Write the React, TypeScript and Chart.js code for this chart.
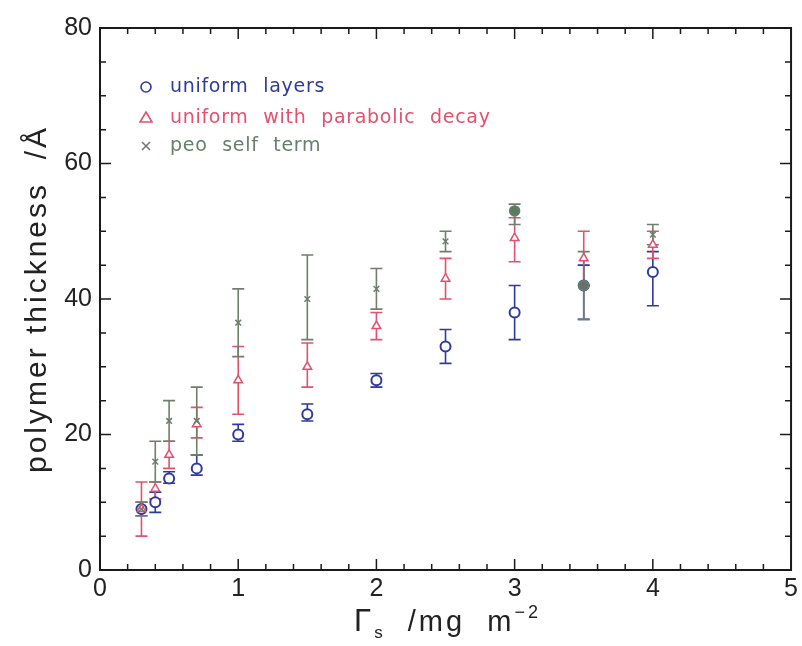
import React, { useEffect, useRef } from 'react';
import { Chart, registerables } from 'chart.js';
Chart.register(...registerables);

// ---- data ----
const xValues = [0.3, 0.4, 0.5, 0.7, 1.0, 1.5, 2.0, 2.5, 3.0, 3.5, 4.0];

const uniformLayers = [9, 10, 13.5, 15, 20, 23, 28, 33, 38, 42, 44];
const uniformLayersLow = [8, 8.5, 12.8, 14, 19, 22, 27, 30.5, 34, 37, 39];
const uniformLayersHigh = [10, 11.5, 14.5, 17, 21.5, 24.5, 29, 35.5, 42, 45, 47];

const parabolicDecay = [9, 12, 17, 21.5, 28, 30, 36, 43, 49, 46, 48];
const parabolicDecayLow = [5, 10.5, 15, 19.5, 23, 27, 34, 40, 45.5, 42, 46];
const parabolicDecayHigh = [13, 13, 19, 24, 33, 33.5, 38, 46, 52, 50, 50];

const peoSelfTerm = [9, 16, 22, 22, 36.5, 40, 41.5, 48.5, 53, 42, 49.5];
const peoSelfTermLow = [8, 13, 19, 17, 31.5, 34, 38.5, 47, 51, 37, 48];
const peoSelfTermHigh = [10, 19, 25, 27, 41.5, 46.5, 44.5, 50, 54, 47, 51];
const peoStyles = ['crossRot', 'crossRot', 'crossRot', 'crossRot', 'crossRot', 'crossRot', 'crossRot', 'crossRot', 'circle', 'circle', 'crossRot'];

const legendLabels = ['uniform layers', 'uniform with parabolic decay', 'peo self term'];
const xTickLabels = ['0', '1', '2', '3', '4', '5'];
const yTickLabels = ['0', '20', '40', '60', '80'];
const yTitle = 'polymer thickness  /Å';

const BLUE = '#2e3a9c';
const RED = '#e4506e';
const GREEN = '#66806a';

const FONT = "'Liberation Sans', Arial, sans-serif";
const LEGEND_FONT = "'DejaVu Sans', sans-serif";

const errorBarPlugin = {
  id: 'errorBars',
  beforeDatasetsDraw(chart: any) {
    const ctx = chart.ctx;
    const xs = chart.scales.x;
    const ys = chart.scales.y;
    const sets = [...chart.data.datasets].reverse();
    sets.forEach((ds: any) => {
      const lows = ds.errLow as number[];
      const highs = ds.errHigh as number[];
      ctx.save();
      ctx.strokeStyle = ds.errColor;
      ctx.lineWidth = 1.6;
      ds.data.forEach((p: any, i: number) => {
        const px = xs.getPixelForValue(p.x);
        const y1 = ys.getPixelForValue(lows[i]);
        const y2 = ys.getPixelForValue(highs[i]);
        ctx.beginPath();
        ctx.moveTo(px, y1);
        ctx.lineTo(px, y2);
        ctx.moveTo(px - 6, y1);
        ctx.lineTo(px + 6, y1);
        ctx.moveTo(px - 6, y2);
        ctx.lineTo(px + 6, y2);
        ctx.stroke();
      });
      ctx.restore();
    });
  },
};

const framePlugin = {
  id: 'frameTicks',
  afterDraw(chart: any) {
    const ctx = chart.ctx;
    const { left, right, top, bottom } = chart.chartArea;
    const xs = chart.scales.x;
    const ys = chart.scales.y;
    ctx.save();
    ctx.strokeStyle = '#1a1a1a';
    ctx.lineWidth = 2;
    ctx.strokeRect(left, top, right - left, bottom - top);
    ctx.lineWidth = 1.5;
    ctx.beginPath();
    for (let i = 0; i <= 25; i++) {
      const v = i * 0.2;
      const px = xs.getPixelForValue(v);
      const len = i % 5 === 0 ? 11 : 6;
      ctx.moveTo(px, bottom);
      ctx.lineTo(px, bottom - len);
      ctx.moveTo(px, top);
      ctx.lineTo(px, top + len);
    }
    for (let i = 0; i <= 16; i++) {
      const v = i * 5;
      const py = ys.getPixelForValue(v);
      const len = i % 4 === 0 ? 11 : 6;
      ctx.moveTo(left, py);
      ctx.lineTo(left + len, py);
      ctx.moveTo(right, py);
      ctx.lineTo(right - len, py);
    }
    ctx.stroke();

    // y-axis title
    ctx.fillStyle = '#222';
    ctx.save();
    ctx.translate(38, (top + bottom) / 2);
    ctx.rotate(-Math.PI / 2);
    ctx.font = `30px ${FONT}`;
    (ctx as any).letterSpacing = '3px';
    ctx.textAlign = 'center';
    ctx.textBaseline = 'middle';
    ctx.fillText(yTitle, 0, 0);
    ctx.restore();

    // x-axis title: Γs /mg m^-2
    ctx.textBaseline = 'alphabetic';
    (ctx as any).letterSpacing = '3px';
    const baseY = 631;
    const parts: [string, number, number][] = [
      ['Γ', 31, 0],
      ['s', 17, 7],
      ['  /mg  m', 29, 0],
      ['−2', 18, -13],
    ];
    let total = 0;
    parts.forEach(([t, s]) => {
      ctx.font = `${s}px ${FONT}`;
      total += ctx.measureText(t).width;
    });
    let cx = (left + right) / 2 - total / 2 + 2;
    parts.forEach(([t, s, dy]) => {
      ctx.font = `${s}px ${FONT}`;
      ctx.fillText(t, cx, baseY + dy);
      cx += ctx.measureText(t).width;
    });

    // legend
    const rows = [
      { label: legendLabels[0], color: BLUE, style: 'circle' },
      { label: legendLabels[1], color: RED, style: 'triangle' },
      { label: legendLabels[2], color: GREEN, style: 'crossRot' },
    ];
    const ly = [87, 118, 146];
    ctx.font = `19px ${LEGEND_FONT}`;
    (ctx as any).letterSpacing = '0.7px';
    (ctx as any).wordSpacing = '8px';
    ctx.textBaseline = 'middle';
    rows.forEach((r, i) => {
      const mx = 146;
      const my = ly[i];
      ctx.strokeStyle = r.color;
      ctx.lineWidth = 1.6;
      ctx.beginPath();
      if (r.style === 'circle') {
        ctx.arc(mx, my, 5, 0, Math.PI * 2);
      } else if (r.style === 'triangle') {
        ctx.moveTo(mx, my - 6);
        ctx.lineTo(mx + 6, my + 4);
        ctx.lineTo(mx - 6, my + 4);
        ctx.closePath();
      } else {
        ctx.moveTo(mx - 4, my - 4);
        ctx.lineTo(mx + 4, my + 4);
        ctx.moveTo(mx + 4, my - 4);
        ctx.lineTo(mx - 4, my + 4);
      }
      ctx.stroke();
      ctx.fillStyle = r.color;
      ctx.fillText(r.label, 170, my);
    });
    ctx.restore();
  },
};

export default function App() {
  const ref = useRef<HTMLCanvasElement>(null);
  useEffect(() => {
    document.body.style.margin = '0';
    const mk = (ys: number[]) => xValues.map((x, i) => ({ x, y: ys[i] }));
    const chart = new Chart(ref.current!, {
      type: 'scatter',
      data: {
        datasets: [
          {
            label: legendLabels[2],
            data: mk(peoSelfTerm),
            pointStyle: peoStyles as any,
            pointRadius: peoStyles.map((s) => (s === 'circle' ? 5 : 4)) as any,
            borderColor: GREEN,
            backgroundColor: peoStyles.map((s, i) => (s === 'circle' ? (i === 9 ? '#6b6f6b' : '#5c7a5e') : GREEN)) as any,
            borderWidth: 1.5,
            errLow: peoSelfTermLow,
            errHigh: peoSelfTermHigh,
            errColor: '#6f7f6c',
          } as any,
          {
            label: legendLabels[1],
            data: mk(parabolicDecay),
            pointStyle: 'triangle',
            pointRadius: 5,
            borderColor: RED,
            backgroundColor: '#ffffff',
            borderWidth: 1.5,
            errLow: parabolicDecayLow,
            errHigh: parabolicDecayHigh,
            errColor: RED,
          } as any,
          {
            label: legendLabels[0],
            data: mk(uniformLayers),
            pointStyle: 'circle',
            pointRadius: 5,
            borderColor: BLUE,
            backgroundColor: '#ffffff',
            borderWidth: 2,
            errLow: uniformLayersLow,
            errHigh: uniformLayersHigh,
            errColor: BLUE,
          } as any,
        ],
      },
      options: {
        animation: false,
        responsive: false,
        layout: { padding: { top: 28, right: 9, left: 0, bottom: 0 } },
        plugins: { legend: { display: false }, tooltip: { enabled: false } },
        scales: {
          x: {
            type: 'linear',
            min: 0,
            max: 5,
            grid: { display: false, tickLength: 0 },
            border: { display: false },
            afterFit: (s: any) => {
              s.height = 76;
            },
            ticks: {
              stepSize: 1,
              padding: 4,
              color: '#222',
              font: { family: FONT, size: 25 },
              callback: (v: any) => xTickLabels[Math.round(Number(v))] ?? '',
            },
          },
          y: {
            type: 'linear',
            min: 0,
            max: 80,
            grid: { display: false, tickLength: 0 },
            border: { display: false },
            afterFit: (s: any) => {
              s.width = 100;
            },
            ticks: {
              stepSize: 20,
              padding: 8,
              color: '#222',
              font: { family: FONT, size: 25 },
              callback: (v: any) => yTickLabels[Math.round(Number(v) / 20)] ?? '',
            },
          },
        },
      },
      plugins: [errorBarPlugin, framePlugin],
    });
    return () => chart.destroy();
  }, []);
  return (
    <div style={{ position: 'absolute', left: 0, top: 0, width: 802, height: 646, background: '#fff' }}>
      <canvas ref={ref} width={802} height={646} style={{ width: 802, height: 646 }} />
    </div>
  );
}
